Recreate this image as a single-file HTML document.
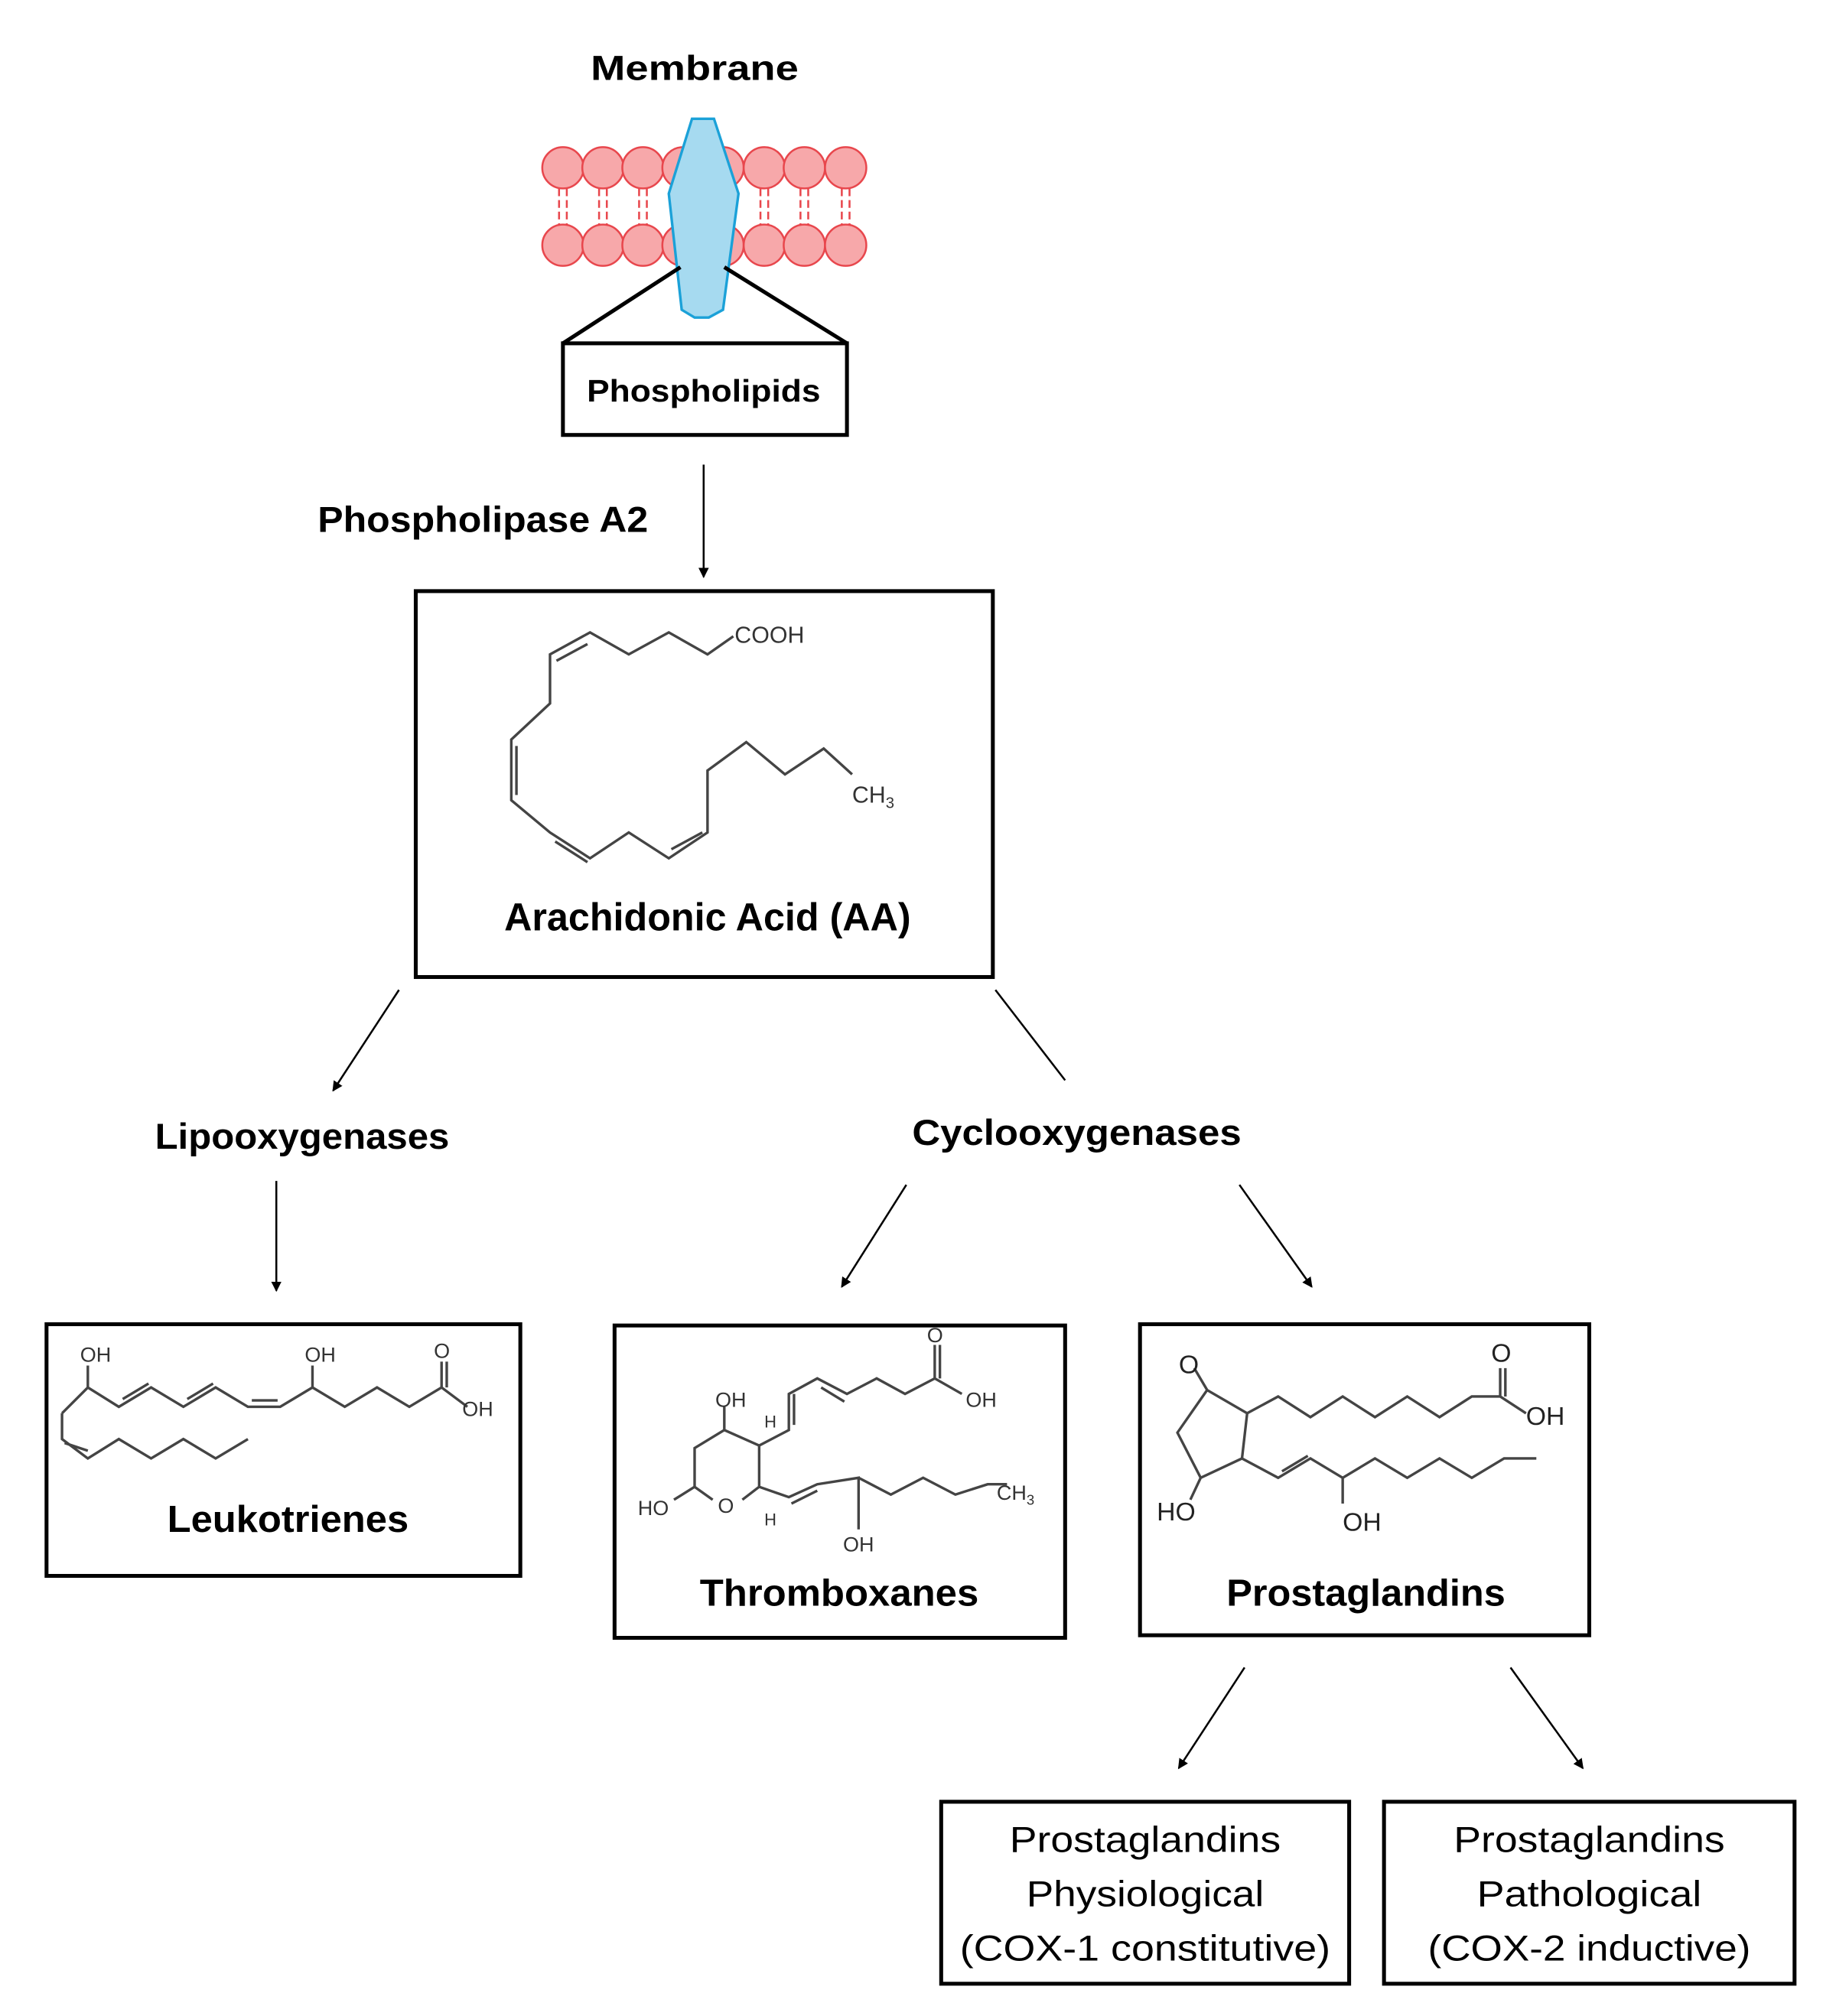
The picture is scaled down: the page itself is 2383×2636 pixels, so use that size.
<!DOCTYPE html>
<html><head><meta charset="utf-8"><style>html,body{margin:0;padding:0;background:#fff}svg{display:block}</style></head>
<body>
<svg width="2383" height="2636" viewBox="0 0 1412 1562" xmlns="http://www.w3.org/2000/svg">
<defs><marker id="ah" markerWidth="8" markerHeight="8" refX="7" refY="4" orient="auto" markerUnits="userSpaceOnUse"><path d="M0,0 L8,4 L0,8 Z" fill="#000"/></marker></defs>
<g font-family="Liberation Sans, sans-serif" fill="#000">
<text x="538" y="62" font-size="27" font-weight="bold" text-anchor="middle" textLength="161" lengthAdjust="spacingAndGlyphs">Membrane</text>
</g>
<g stroke="#e8474d" stroke-width="1.5">
<g fill="none">
<path d="M433,146 V174 M439,146 V174 M464,146 V174 M470,146 V174 M495,146 V174 M501,146 V174 M589,146 V174 M595,146 V174 M620,146 V174 M626,146 V174 M652,146 V174 M658,146 V174" stroke-dasharray="6,3"/>
</g>
<g fill="#f7a8aa">
<circle cx="436" cy="130" r="16"/><circle cx="467" cy="130" r="16"/><circle cx="498" cy="130" r="16"/><circle cx="529" cy="130" r="16"/><circle cx="560" cy="130" r="16"/><circle cx="592" cy="130" r="16"/><circle cx="623" cy="130" r="16"/><circle cx="655" cy="130" r="16"/>
<circle cx="436" cy="190" r="16"/><circle cx="467" cy="190" r="16"/><circle cx="498" cy="190" r="16"/><circle cx="529" cy="190" r="16"/><circle cx="560" cy="190" r="16"/><circle cx="592" cy="190" r="16"/><circle cx="623" cy="190" r="16"/><circle cx="655" cy="190" r="16"/>
</g></g>
<path d="M536,92 L553,92 L572,150 L560,240 L549,246 L538,246 L528,240 L518,150 Z" fill="#a6daf0" stroke="#1ba1d8" stroke-width="2"/>
<g stroke="#000" stroke-width="3" fill="none">
<path d="M527,207 L436,266 M561,207 L656,266"/>
<rect x="436" y="266" width="220" height="71"/>
<rect x="322" y="458" width="447" height="299"/>
<rect x="36" y="1026" width="367" height="195"/>
<rect x="476" y="1027" width="349" height="242"/>
<rect x="883" y="1026" width="348" height="241"/>
<rect x="729" y="1396" width="316" height="141"/>
<rect x="1072" y="1396" width="318" height="141"/>
</g>
<g stroke="#000" stroke-width="1.5" fill="none" marker-end="url(#ah)">
<path d="M545,360 L545,447"/>
<path d="M309,767 L258,845"/>
<path d="M214,915 L214,1000"/>
<path d="M702,918 L652,997"/>
<path d="M960,918 L1016,997"/>
<path d="M964,1292 L913,1370"/>
<path d="M1170,1292 L1226,1370"/>
</g>
<path d="M771,767 L825,837" stroke="#000" stroke-width="1.5"/>
<g font-family="Liberation Sans, sans-serif" fill="#000" font-weight="bold">
<text x="545" y="311" font-size="24" text-anchor="middle" textLength="181" lengthAdjust="spacingAndGlyphs">Phospholipids</text>
<text x="374" y="412" font-size="28" text-anchor="middle" textLength="256" lengthAdjust="spacingAndGlyphs">Phospholipase A2</text>
<text x="548" y="721" font-size="30" text-anchor="middle" textLength="315" lengthAdjust="spacingAndGlyphs">Arachidonic Acid (AA)</text>
<text x="234" y="890" font-size="28" text-anchor="middle" textLength="228" lengthAdjust="spacingAndGlyphs">Lipooxygenases</text>
<text x="834" y="887" font-size="28" text-anchor="middle" textLength="255" lengthAdjust="spacingAndGlyphs">Cyclooxygenases</text>
<text x="223" y="1187" font-size="29" text-anchor="middle" textLength="187" lengthAdjust="spacingAndGlyphs">Leukotrienes</text>
<text x="650" y="1244" font-size="29" text-anchor="middle" textLength="216" lengthAdjust="spacingAndGlyphs">Thromboxanes</text>
<text x="1058" y="1244" font-size="29" text-anchor="middle" textLength="216" lengthAdjust="spacingAndGlyphs">Prostaglandins</text>
</g>
<g font-family="Liberation Sans, sans-serif" fill="#000" font-size="28" text-anchor="middle">
<text x="887" y="1435" textLength="210" lengthAdjust="spacingAndGlyphs">Prostaglandins</text>
<text x="887" y="1477" textLength="184" lengthAdjust="spacingAndGlyphs">Physiological</text>
<text x="887" y="1519" textLength="287" lengthAdjust="spacingAndGlyphs">(COX-1 constitutive)</text>
<text x="1231" y="1435" textLength="210" lengthAdjust="spacingAndGlyphs">Prostaglandins</text>
<text x="1231" y="1477" textLength="174" lengthAdjust="spacingAndGlyphs">Pathological</text>
<text x="1231" y="1519" textLength="250" lengthAdjust="spacingAndGlyphs">(COX-2 inductive)</text>
</g>
<g stroke="#444" stroke-width="2" fill="none">
<!-- AA -->
<path d="M568,493 L548,507 L518,490 L487,507 L457,490 L426,507 L426,545 L396,573 L396,620 L426,645 L457,665 L487,645 L518,665 L548,645 L548,597 L578,575 L608,600 L638,580 L660,600"/>
<path d="M455,499 L431,512 M400,578 L400,616 M430,652 L455,668 M520,658 L544,645"/>
<!-- Leukotriene -->
<path d="M48,1095 L68,1075 L92,1090 L117,1075 L142,1090 L167,1075 L192,1090 L217,1090 L242,1075 L267,1090 L292,1075 L317,1090 L342,1075 L362,1090 M68,1075 L68,1058 M242,1075 L242,1058 M342,1075 L342,1055 M48,1095 L48,1115 L68,1130 L92,1115 L117,1130 L142,1115 L167,1130 L192,1115"/>
<path d="M95,1084 L115,1072 M145,1084 L165,1072 M195,1085 L215,1085 M50,1118 L68,1124 M346,1075 L346,1055"/>
<!-- Thromboxane -->
<path d="M561,1108 L588,1120 L588,1152 L575,1162 M561,1108 L538,1122 L538,1152 L552,1162 M561,1108 L561,1090 M588,1120 L611,1108 L611,1080 L633,1068 L656,1080 L679,1068 L701,1080 L724,1068 L724,1042 M724,1068 L745,1080 M588,1152 L611,1160 L633,1150 L665,1145 L665,1185 M665,1145 L690,1158 L715,1145 L740,1158 L765,1150 L780,1150 M538,1152 L522,1162"/>
<path d="M615,1080 L615,1104 M636,1075 L654,1086 M613,1165 L633,1155 M728,1068 L728,1042"/>
<!-- PG -->
<path d="M935,1077 L966,1095 L962,1130 L930,1145 L912,1110 Z M935,1077 L925,1060 M966,1095 L990,1082 L1015,1098 L1040,1082 L1065,1098 L1090,1082 L1115,1098 L1140,1082 L1162,1082 M1162,1082 L1162,1060 M1162,1082 L1182,1095 M962,1130 L990,1145 L1015,1130 L1040,1145 L1040,1165 M1040,1145 L1065,1130 L1090,1145 L1115,1130 L1140,1145 L1165,1130 L1190,1130 M930,1145 L922,1162"/>
<path d="M993,1140 L1013,1128 M1166,1082 L1166,1060"/>
</g>
<g font-family="Liberation Sans, sans-serif" fill="#333" font-size="18">
<text x="569" y="498">COOH</text>
<text x="660" y="622">CH<tspan font-size="12" dy="4">3</tspan></text>
</g>
<g font-family="Liberation Sans, sans-serif" fill="#333" font-size="16">
<text x="62" y="1055">OH</text><text x="236" y="1055">OH</text><text x="336" y="1052">O</text><text x="358" y="1097">OH</text>
<text x="554" y="1090">OH</text><text x="718" y="1040">O</text><text x="748" y="1090">OH</text><text x="494" y="1174">HO</text><text x="556" y="1172">O</text><text x="653" y="1202">OH</text><text x="772" y="1162">CH<tspan font-size="11" dy="4">3</tspan></text>
<text x="592" y="1106" font-size="13">H</text><text x="592" y="1182" font-size="13">H</text>
</g>
<g font-family="Liberation Sans, sans-serif" fill="#222" font-size="20">
<text x="913" y="1064">O</text><text x="1155" y="1055">O</text><text x="1182" y="1104">OH</text><text x="896" y="1178">HO</text><text x="1040" y="1186">OH</text>
</g>
</svg>
</body></html>
